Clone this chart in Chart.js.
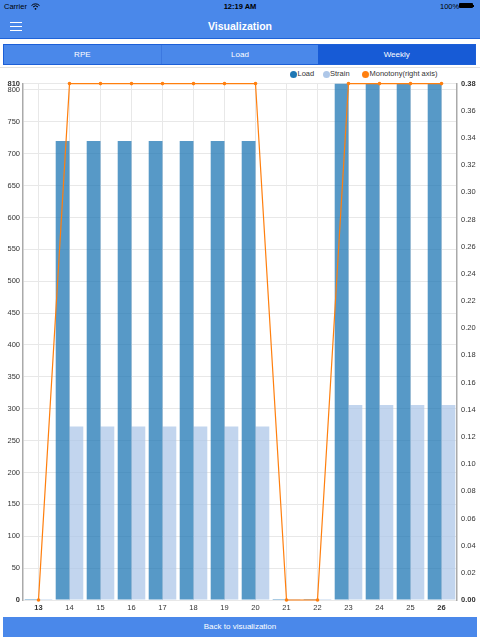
<!DOCTYPE html>
<html>
<head>
<meta charset="utf-8">
<script src="https://cdn.jsdelivr.net/npm/chart.js@4.4.0/dist/chart.umd.min.js"></script>
<style>
  html, body { margin:0; padding:0; background:#fff; }
  body { width:480px; height:640px; position:relative; overflow:hidden; font-family:"Liberation Sans", Helvetica, Arial, sans-serif; }
  #nav { position:absolute; left:0; top:0; width:480px; height:38px; background:#4a88ea; border-bottom:1px solid #1f63d8; }
  .sb { position:absolute; top:1px; font-size:7.5px; color:#000; line-height:11px; }
  #title { position:absolute; top:19px; left:0; width:480px; text-align:center; color:#fff; font-weight:bold; font-size:10.5px; line-height:14px; }
  .hb { position:absolute; left:10px; width:12px; height:1.4px; background:#fff; }
  #seg { position:absolute; left:3px; top:44px; width:471px; height:19px; border:1px solid #1c5fd7; background:#4a88ea; display:flex; }
  #seg div { height:19px; line-height:19px; text-align:center; color:#fff; font-size:8px; }
  #sep { position:absolute; left:0; top:67px; width:480px; height:1px; background:#e2e2e2; }
  #wrap { position:absolute; left:0; top:68px; width:480px; height:548px; }
  .lg { position:absolute; top:70px; height:8px; font-size:7.5px; line-height:8px; color:#333; white-space:nowrap; }
  .lg span.dot { display:inline-block; width:7px; height:7px; border-radius:50%; vertical-align:top; margin-top:0.5px; margin-right:0.5px; }
  #back { position:absolute; left:3px; top:617px; width:474px; height:20px; background:#4a88ea; color:#fff; font-size:8px; line-height:20px; text-align:center; }
</style>
</head>
<body>
<div id="nav">
  <div class="sb" style="left:4px;">Carrier</div>
  <svg style="position:absolute;left:31px;top:2.5px" width="9" height="7" viewBox="0 0 9 7">
    <path d="M0.5 2.6 A5.5 5.5 0 0 1 8.5 2.6" stroke="#000" stroke-width="1" fill="none"/>
    <path d="M2 4 A3.5 3.5 0 0 1 7 4" stroke="#000" stroke-width="1" fill="none"/>
    <circle cx="4.5" cy="5.8" r="0.9" fill="#000"/>
  </svg>
  <div class="sb" style="left:0;width:480px;text-align:center;font-weight:bold;">12:19 AM</div>
  <div class="sb" style="left:440px;">100%</div>
  <div style="position:absolute;left:459px;top:3px;width:14px;height:5px;background:#000;border-radius:1px;"></div>
  <div style="position:absolute;left:473px;top:4.5px;width:1.2px;height:2px;background:#000;"></div>
  <div class="hb" style="top:22px;"></div>
  <div class="hb" style="top:26px;"></div>
  <div class="hb" style="top:30px;"></div>
  <div id="title">Visualization</div>
</div>
<div id="seg">
  <div style="width:157px;border-right:1px solid #3c78e0;">RPE</div>
  <div style="width:157px;">Load</div>
  <div style="width:157px;background:#175bd6;">Weekly</div>
</div>
<div id="sep"></div>
<div class="lg" style="left:290px;"><span class="dot" style="background:#1f77b4"></span><span id="lg0"></span></div>
<div class="lg" style="left:322.5px;"><span class="dot" style="background:#aec7e8"></span><span id="lg1"></span></div>
<div class="lg" style="left:362px;"><span class="dot" style="background:#ff7f0e"></span><span id="lg2"></span></div>
<div id="wrap"><canvas id="c"></canvas></div>
<div id="back">Back to visualization</div>
<script>
const weeks = ['13','14','15','16','17','18','19','20','21','22','23','24','25','26'];
const loadValues = [0, 720, 720, 720, 720, 720, 720, 720, 0, 0, 810, 810, 810, 810];
const strainValues = [0, 272, 272, 272, 272, 272, 272, 272, 0, 0, 306, 306, 306, 306];
const monotonyValues = [0, 0.38, 0.38, 0.38, 0.38, 0.38, 0.38, 0.38, 0, 0, 0.38, 0.38, 0.38, 0.38];
const seriesNames = ['Load', 'Strain', 'Monotony(right axis)'];
const leftTicks = [0,50,100,150,200,250,300,350,400,450,500,550,600,650,700,750,800,810];
const rightTicks = [0,0.02,0.04,0.06,0.08,0.10,0.12,0.14,0.16,0.18,0.20,0.22,0.24,0.26,0.28,0.30,0.32,0.34,0.36,0.38];

seriesNames.forEach((n, i) => { document.getElementById('lg' + i).textContent = n; });

const FONT = '"Liberation Sans", Helvetica, Arial, sans-serif';
function endFont(ctx, arr) {
  const v = ctx.tick ? ctx.tick.value : null;
  const first = arr[0], last = arr[arr.length - 1];
  const bold = (v === first || v === last);
  return { family: FONT, size: 7.5, weight: bold ? 'bold' : 'normal' };
}

new Chart(document.getElementById('c'), {
  data: {
    labels: weeks,
    datasets: [
      { type: 'bar', label: seriesNames[0], data: loadValues, yAxisID: 'y', order: 1,
        backgroundColor: 'rgba(31,119,180,0.75)', borderWidth: 0,
        categoryPercentage: 0.89, barPercentage: 1.0, minBarLength: 1 },
      { type: 'bar', label: seriesNames[1], data: strainValues, yAxisID: 'y', order: 1,
        backgroundColor: 'rgba(174,199,232,0.75)', borderWidth: 0,
        categoryPercentage: 0.89, barPercentage: 1.0, minBarLength: 1 },
      { type: 'line', label: seriesNames[2], data: monotonyValues, yAxisID: 'y1', order: 0,
        borderColor: '#ff7f0e', backgroundColor: '#ff7f0e', borderWidth: 1.2,
        pointRadius: 1.8, pointBorderWidth: 0, pointBackgroundColor: '#ff7f0e',
        tension: 0, clip: false, fill: false }
    ]
  },
  options: {
    responsive: true,
    maintainAspectRatio: false,
    animation: false,
    devicePixelRatio: 1,
    layout: { padding: { top: 15.6, bottom: 0, left: 0, right: 0 } },
    plugins: { legend: { display: false }, tooltip: { enabled: false } },
    scales: {
      x: {
        type: 'category', offset: true,
        grid: { offset: false, color: '#e8e8e8', drawTicks: false },
        border: { display: false },
        ticks: { padding: 3, color: '#333', autoSkip: false, maxRotation: 0,
          font: (ctx) => { const i = ctx.index; const b = (i === 0 || i === weeks.length - 1); return { family: FONT, size: 7.5, weight: b ? 'bold' : 'normal' }; } },
        afterFit: (s) => { s.height = 16; }
      },
      y: {
        type: 'linear', position: 'left', min: 0, max: 810,
        afterBuildTicks: (s) => { s.ticks = leftTicks.map(v => ({ value: v })); },
        afterFit: (s) => { s.width = 23; },
        grid: { color: '#e8e8e8', drawTicks: false },
        border: { color: '#aaaaaa', width: 1.5 },
        ticks: { padding: 3, color: '#333', autoSkip: false, font: (ctx) => endFont(ctx, leftTicks) }
      },
      y1: {
        type: 'linear', position: 'right', min: 0, max: 0.38,
        afterBuildTicks: (s) => { s.ticks = rightTicks.map(v => ({ value: v })); },
        afterFit: (s) => { s.width = 23; },
        grid: { display: false, drawTicks: false },
        border: { color: '#aaaaaa', width: 1.5 },
        ticks: { padding: 4, color: '#333', autoSkip: false,
          callback: (v) => Number(v).toFixed(2),
          font: (ctx) => endFont(ctx, rightTicks) }
      }
    }
  }
});
</script>
</body>
</html>
